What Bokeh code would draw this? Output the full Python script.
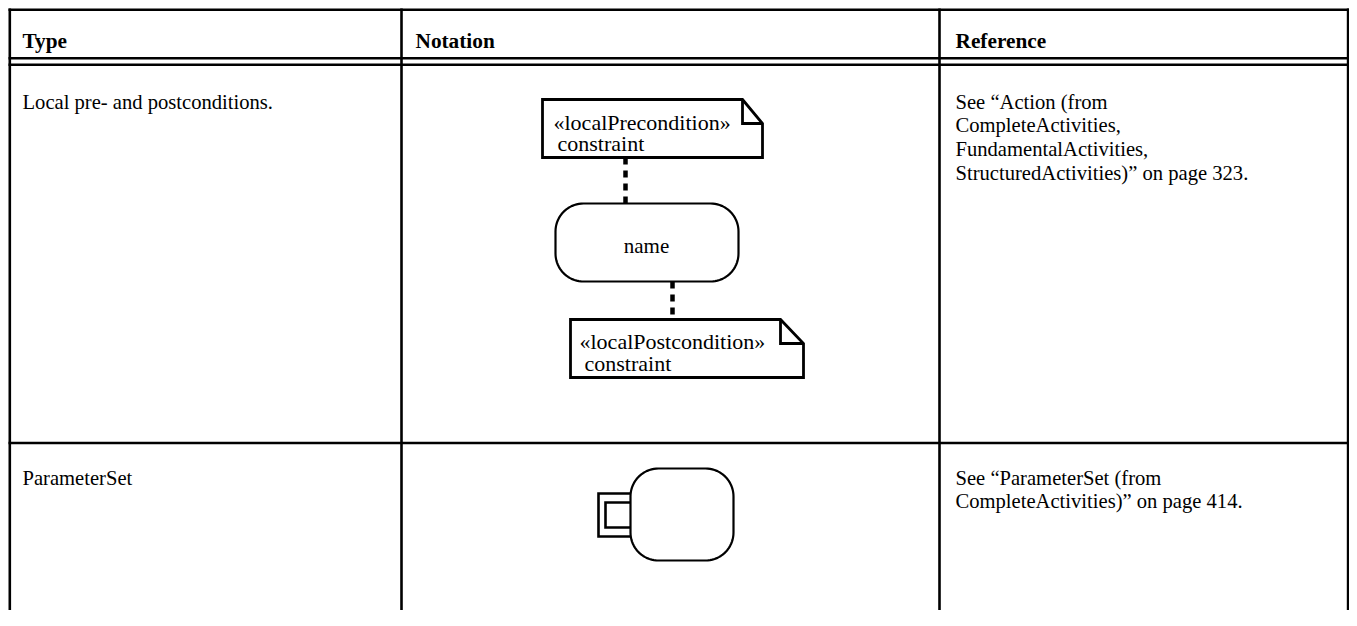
import numpy as np
from bokeh.plotting import figure
from bokeh.models import Range1d
from bokeh.core.properties import value
from bokeh.embed import file_html
from bokeh.resources import INLINE

# ---------------- data ----------------
headers = ["Type", "Notation", "Reference"]
row_types = ["Local pre- and postconditions.", "ParameterSet"]
row_refs = [
    ["See \u201cAction (from", "CompleteActivities,", "FundamentalActivities,",
     "StructuredActivities)\u201d on page 323."],
    ["See \u201cParameterSet (from", "CompleteActivities)\u201d on page 414."],
]
pre_note = ["\u00ablocalPrecondition\u00bb", "constraint"]
post_note = ["\u00ablocalPostcondition\u00bb", "constraint"]
action_label = "name"

# ---------------- layout (picture pixel coordinates) ----------------
W, H = 1349, 610
FONT = value("Liberation Serif")
col_x = [9.3, 401, 939, W - 1.4]
text_x = [22, 415, 955]
top_y = 9.3
hdr_lines = [57.8, 64.2]
row_div = 442.5
hdr_base = 40
row_base = [101, 477]
line_h = 23.8
BODY = "20.6px"
LW = 2.6
x_left, x_right = col_x[0] - LW / 2, col_x[-1] + LW / 2

p = figure(width=W, height=H, output_backend="svg", toolbar_location=None,
           x_range=Range1d(0, W), y_range=Range1d(H, 0),
           min_border=0, outline_line_color=None,
           background_fill_color="white", border_fill_color="white")
p.axis.visible = False
p.grid.visible = False

# table grid
hy = [top_y, hdr_lines[0], hdr_lines[1], row_div]
p.segment(x0=[x_left] * 4, x1=[x_right] * 4, y0=hy, y1=hy,
          line_color="black", line_width=LW)
p.segment(x0=col_x, x1=col_x, y0=[top_y - LW / 2] * 4, y1=[H] * 4,
          line_color="black", line_width=LW)

# header texts
p.text(x=text_x, y=[hdr_base] * 3, text=headers, text_font=FONT,
       text_font_size="21.3px", text_font_style="bold",
       text_baseline="alphabetic", text_align="left", text_color="black")

# type column
p.text(x=[text_x[0]] * 2, y=row_base, text=row_types, text_font=FONT,
       text_font_size=BODY, text_baseline="alphabetic", text_align="left",
       text_color="black")

# reference column
for base, lines in zip(row_base, row_refs):
    ys = [base + i * line_h for i in range(len(lines))]
    p.text(x=[text_x[2]] * len(lines), y=ys, text=lines, text_font=FONT,
           text_font_size=BODY, text_baseline="alphabetic", text_align="left",
           text_color="black")


def rounded_rect(x0, y0, x1, y1, r):
    xs, ys = [], []
    corners = [(x1 - r, y0 + r, -90, 0), (x1 - r, y1 - r, 0, 90),
               (x0 + r, y1 - r, 90, 180), (x0 + r, y0 + r, 180, 270)]
    for cx, cy, a0, a1 in corners:
        t = np.radians(np.linspace(a0, a1, 20))
        xs.extend(cx + r * np.cos(t))
        ys.extend(cy + r * np.sin(t))
    return xs, ys


def note(x0, y0, x1, y1, fw, fh, lines, tx, tb):
    xs = [x0, x1 - fw, x1, x1, x0]
    ys = [y0, y0, y0 + fh, y1, y1]
    p.patch(xs, ys, fill_color="white", line_color="black", line_width=2.8,
            line_join="miter")
    p.line([x1 - fw, x1 - fw, x1], [y0, y0 + fh, y0 + fh],
           line_color="black", line_width=2.8, line_join="miter")
    p.text(x=tx, y=tb, text=lines, text_font=FONT,
           text_font_size="22px", text_baseline="alphabetic", text_align="left",
           text_color="black")


# dashed connectors
p.line([625, 625], [157, 203], line_color="black", line_width=4.5,
       line_dash="7 6", line_cap="butt")
p.line([672, 672], [281, 319], line_color="black", line_width=4.5,
       line_dash="7 6", line_cap="butt")

# notes
note(542, 99, 762, 157, 20, 24, pre_note, [553, 557], [122, 143])
note(570, 319, 803, 377, 23, 24, post_note, [579, 584], [341, 363])

# action node
ax, ay = rounded_rect(555, 203, 738, 281, 28)
p.patch(ax, ay, fill_color="white", line_color="black", line_width=2.2)
p.text(x=[646], y=[245], text=[action_label], text_font=FONT,
       text_font_size="21px", text_baseline="alphabetic", text_align="center",
       text_color="black")

# parameter set notation
bx, by = rounded_rect(630, 468, 733, 560, 28)
p.patch(bx, by, fill_color="white", line_color="black", line_width=2.2)
p.line([630, 598, 598, 630], [493, 493, 536, 536], line_color="black",
       line_width=2.6, line_join="miter")
p.line([630, 605, 605, 630], [502, 502, 527, 527], line_color="black",
       line_width=2.6, line_join="miter")

open("out.html", "w").write(file_html(p, INLINE))
